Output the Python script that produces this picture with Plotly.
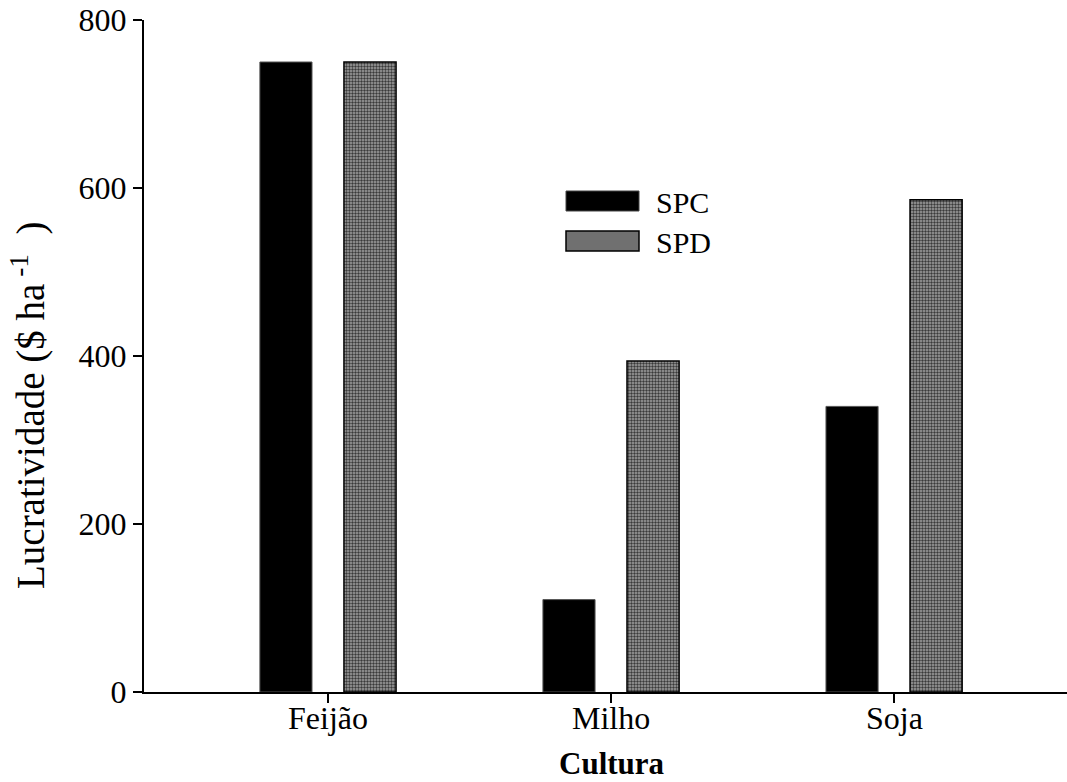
import plotly.graph_objects as go

categories = ["Feijão", "Milho", "Soja"]
spc = [750, 110, 340]
spd = [750, 394, 586]
y_ticks = [0, 200, 400, 600, 800]

W, H = 1067, 782
ML, MR, MT, MB = 144, 0, 20, 90
pw, ph = W - ML - MR, H - MT - MB

def px(x):
    return (x - ML) / pw

def py(y):
    return (H - MB - y) / ph

FONT = "Liberation Serif"

fig = go.Figure()
fig.add_trace(go.Bar(
    x=categories, y=spc, name="SPC",
    marker=dict(color="black", line=dict(color="#555555", width=1)),
    showlegend=False,
))
fig.add_trace(go.Bar(
    x=categories, y=spd, name="SPD",
    marker=dict(color="#6e6e6e",
                pattern=dict(shape=".", fgcolor="#3a3a3a", bgcolor="#a2a2a2", size=3, solidity=0.5, fillmode="replace"),
                line=dict(color="black", width=1.5)),
    showlegend=False,
))

# category labels (x tick labels) placed close to the axis
for c in categories:
    fig.add_annotation(text=c, xref="x", yref="paper", x=c, y=py(718),
                       xanchor="center", yanchor="middle", showarrow=False,
                       font=dict(family=FONT, size=32, color="black"))

# custom legend
fig.add_shape(type="rect", xref="paper", yref="paper",
              x0=px(566), x1=px(639), y0=py(211), y1=py(191),
              fillcolor="black", line=dict(color="#444444", width=1))
fig.add_shape(type="rect", xref="paper", yref="paper",
              x0=px(566), x1=px(639), y0=py(251), y1=py(231),
              fillcolor="#707070", line=dict(color="black", width=1.5))
fig.add_annotation(text="SPC", xref="paper", yref="paper", x=px(654), y=py(202),
                   xanchor="left", yanchor="middle", showarrow=False,
                   font=dict(family=FONT, size=30, color="black"))
fig.add_annotation(text="SPD", xref="paper", yref="paper", x=px(654), y=py(242),
                   xanchor="left", yanchor="middle", showarrow=False,
                   font=dict(family=FONT, size=30, color="black"))

# axis titles
fig.add_annotation(text="<b>Cultura</b>", xref="paper", yref="paper", x=px(612), y=py(763),
                   xanchor="center", yanchor="middle", showarrow=False,
                   font=dict(family=FONT, size=31, color="black"))
fig.add_annotation(text="Lucratividade ($ ha<sup>\u00a0-1</sup>\u00a0\u00a0)", xref="paper", yref="paper",
                   x=px(28), y=py(406), textangle=-90,
                   xanchor="center", yanchor="middle", showarrow=False,
                   font=dict(family=FONT, size=39, color="black"))

fig.update_layout(
    width=W, height=H,
    margin=dict(l=ML, r=MR, t=MT, b=MB, pad=0),
    paper_bgcolor="white", plot_bgcolor="white",
    barmode="group", bargap=0.406, bargroupgap=0.38,
    font=dict(family=FONT, size=30, color="black"),
    xaxis=dict(
        range=[-0.65, 2.611], automargin=False,
        showline=True, linecolor="black", linewidth=2,
        ticks="outside", ticklen=9, tickwidth=2, tickcolor="black",
        showgrid=False, zeroline=False, showticklabels=False,
    ),
    yaxis=dict(
        range=[0, 800], automargin=False,
        tickvals=y_ticks,
        showline=True, linecolor="black", linewidth=2,
        ticks="outside", ticklen=9, tickwidth=2, tickcolor="black",
        showgrid=False, zeroline=False,
        tickfont=dict(family=FONT, size=32),
    ),
)

fig.write_html(
    "out.html",
    config={"displayModeBar": False},
    post_script="document.body.style.margin='0';document.body.style.overflow='hidden';",
)
